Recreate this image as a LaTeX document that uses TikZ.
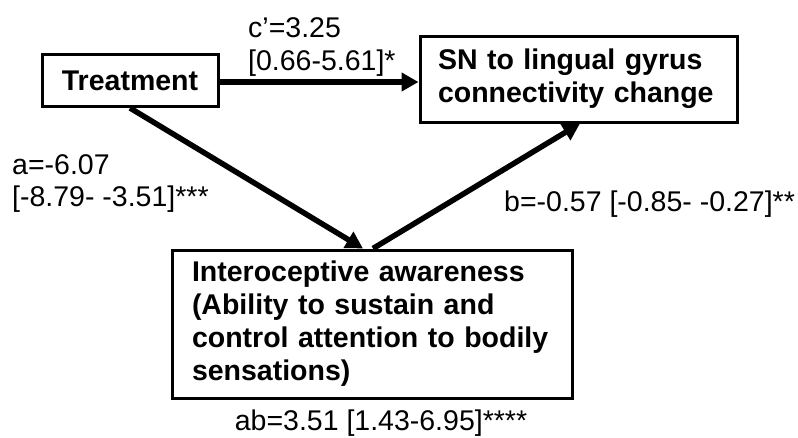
\documentclass[tikz,border=0pt]{standalone}
\usepackage{fontspec}
\setmainfont{Liberation Sans}
\usetikzlibrary{arrows.meta,calc}
\begin{document}
\begin{tikzpicture}[x=1pt,y=-1pt,
  box/.style={draw, line width=3pt, inner sep=0pt, font=\fontsize{28.5}{33}\selectfont\bfseries},
  lbl/.style={inner sep=0pt, anchor=base west, font=\fontsize{28.5}{33}\selectfont},
  arr/.style={line width=5.5pt, -{Triangle[length=17pt,width=18pt]}}]
\useasboundingbox (0,0) rectangle (798,437);
\node[box, minimum width=176pt, minimum height=52pt] (treat) at (130,80.5) {Treatment};
\node[box, minimum width=317pt, minimum height=86pt, text width=281pt, align=left] (sn) at (578.5,79) {SN to lingual gyrus\\connectivity change};
\node[box, minimum width=400pt, minimum height=148pt, text width=360pt, align=left] (intero) at (372,324) {Interoceptive awareness\\(Ability to sustain and\\control attention to bodily\\sensations)};
\draw[arr] ($(treat.east)+(0,1.5)$) -- ($(treat.east -| sn.west)+(0,1.5)$);
\draw[arr] (treat.south) -- ($(intero.north)+(-9,0)$);
\draw[arr] ($(intero.north)+(1,0)$) -- ($(sn.south)+(1.5,0)$);
\node[lbl] (c1) at (248,37) {c’=3.25};
\node[lbl] (c2) at (248,70) {[0.66-5.61]*};
\node[lbl] (a1) at (12,174) {a=-6.07};
\node[lbl] (a2) at (12,206) {[-8.79- -3.51]***};
\node[lbl] (b1) at (504,211) {b=-0.57 [-0.85- -0.27]**};
\node[lbl, anchor=base] (ab) at (381,430) {ab=3.51 [1.43-6.95]****};
\end{tikzpicture}
\end{document}
